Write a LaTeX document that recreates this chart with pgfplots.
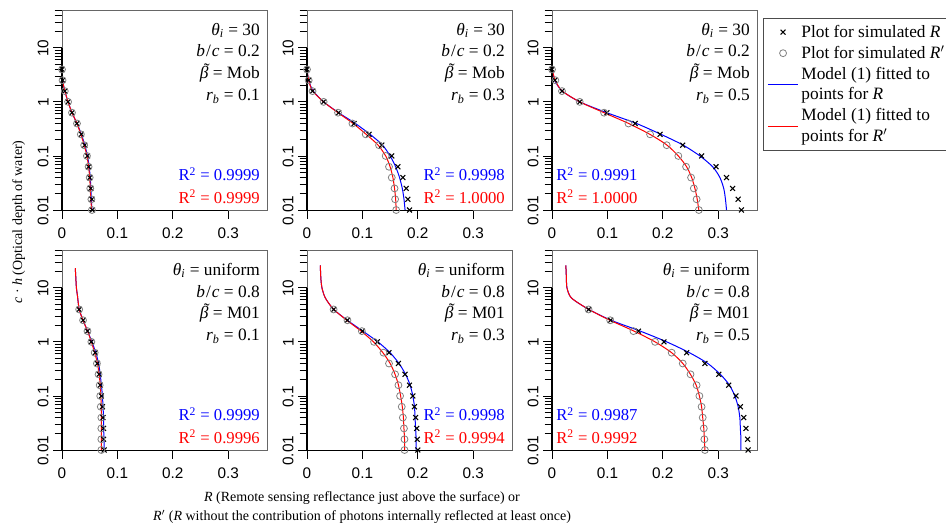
\documentclass[border=0pt]{standalone}
\usepackage{pgfplots}
\pgfplotsset{compat=1.18}
\usepackage{fontspec}
\setmainfont{Liberation Serif}
\newfontfamily\sansf{Liberation Sans}

\definecolor{rblue}{RGB}{0,0,255}
\definecolor{rred}{RGB}{255,0,0}

\pgfplotsset{
  panel/.style={
    scale only axis, width=153.75pt, height=150pt,
    xmin=0, xmax=0.37, ymin=0.01, ymax=50,
    clip=false,
    xtick={0,0.1,0.2,0.3}, xticklabels={0,0.1,0.2,0.3},
    ytick={0.01,0.1,1,10}, yticklabels={0.01,0.1,1,10},
    minor ytick={0.02,0.03,0.04,0.05,0.06,0.07,0.08,0.09,0.2,0.3,0.4,0.5,0.6,0.7,0.8,0.9,2,3,4,5,6,7,8,9,20,30,40,50},
    xtick pos=bottom, ytick pos=left,
    tick align=outside,
    major tick length=6.5pt, minor tick length=5.5pt,
    every tick/.style={black, line width=0.6pt},
    axis line style={black!60, line width=0.6pt},
    tick label style={font=\sansf\fontsize{11.5}{11.5}\selectfont},
    yticklabel style={rotate=90, anchor=south, xshift=-0.5pt},
    xticklabel style={anchor=north, yshift=-3pt},
    legend image code/.code={\draw[mark repeat=2,mark phase=2,#1] plot coordinates {(0cm,0cm) (0.4cm,0cm) (0.8cm,0cm)};},
  },
  simR/.style={only marks, mark=x, mark size=2.6pt, color=black, line width=0.8pt},
  simRp/.style={only marks, mark=o, mark size=2.6pt, color=black!50, line width=0.6pt},
  fitR/.style={color=rblue, draw=rblue, line width=0.75pt, smooth, tension=0.45, mark=none},
  fitRp/.style={color=rred, draw=rred, line width=0.75pt, smooth, tension=0.45, mark=none},
}

% beta with a tilde centred over it
\newcommand{\btilde}{\setbox0\hbox{\textit{β}}%
  \makebox[\wd0][c]{\hspace{0.3em}\smash{\raisebox{0.2em}{˜}}}\kern-\wd0\box0}
\newcommand{\annot}[4]{%
  \node[anchor=north east, align=right, inner sep=0pt, font=\fontsize{13}{16.2}\selectfont]
    at (rel axis cs:0.966,0.935)
    {\textit{θ}\textsubscript{\textit{i}} = #1\\\textit{b}\kern0.8pt/\kern0.8pt\textit{c} = #2\\\btilde\ = #3\\\textit{r}\textsubscript{\textit{b}} = #4};}
\newcommand{\rsqright}[2]{%
  \node[anchor=south east, align=right, inner sep=0pt, font=\fontsize{12.5}{17}\selectfont]
    at (rel axis cs:0.966,0.03)
    {\textcolor{rblue}{R\textsuperscript{2} = #1}\\\textcolor{rred}{R\textsuperscript{2} = #2}};}
\newcommand{\rsqleft}[2]{%
  \node[anchor=south west, align=left, inner sep=0pt, font=\fontsize{12.5}{17}\selectfont]
    at (rel axis cs:0.02,0.03)
    {\textcolor{rblue}{R\textsuperscript{2} = #1}\\\textcolor{rred}{R\textsuperscript{2} = #2}};}
\newcommand{\blackaxes}{%
  \draw[black, line width=0.9pt] (axis cs:0,0.01) -- (axis cs:0,10);
  \draw[black, line width=0.6pt] (axis cs:0,0.01) -- (axis cs:0.3,0.01);}

\begin{document}
\begin{tikzpicture}
\useasboundingbox (0,0) rectangle (709.5pt,-396.75pt);

% ---- top row: theta_i = 30, b/c = 0.2, Mob ----
\begin{semilogyaxis}[panel, at={(46.5pt,-157.5pt)}, anchor=south west]
\addplot[simR] coordinates {(0,3.98)(0.001,2.51)(0.005,1.58)(0.011,1)(0.018,0.631)(0.027,0.398)(0.035,0.251)(0.041,0.158)(0.046,0.1)(0.048,0.0631)(0.050,0.0398)(0.052,0.0251)(0.054,0.0158)(0.055,0.01)};
\addplot[simRp] coordinates {(0,3.98)(0.001,2.51)(0.005,1.58)(0.011,1)(0.018,0.631)(0.027,0.398)(0.034,0.251)(0.040,0.158)(0.045,0.1)(0.048,0.0631)(0.050,0.0398)(0.051,0.0251)(0.053,0.0158)(0.054,0.01)};
\addplot[fitR] coordinates {(0,4)(0.001,2.5)(0.005,1.6)(0.011,1)(0.018,0.63)(0.027,0.4)(0.035,0.25)(0.041,0.16)(0.046,0.1)(0.049,0.063)(0.051,0.04)(0.052,0.025)(0.053,0.016)(0.054,0.01)};
\addplot[fitRp] coordinates {(0,4)(0.001,2.5)(0.005,1.6)(0.011,1)(0.018,0.63)(0.027,0.4)(0.034,0.25)(0.040,0.16)(0.045,0.1)(0.048,0.063)(0.050,0.04)(0.051,0.025)(0.052,0.016)(0.0535,0.01)};
\blackaxes
\annot{30}{0.2}{Mob}{0.1}
\rsqright{0.9999}{0.9999}
\end{semilogyaxis}

\begin{semilogyaxis}[panel, at={(230.25pt,-157.5pt)}, anchor=south west]
\addplot[simR] coordinates {(0,3.98)(0.003,2.51)(0.010,1.58)(0.030,1)(0.057,0.631)(0.085,0.398)(0.112,0.251)(0.135,0.158)(0.153,0.1)(0.164,0.0631)(0.173,0.0398)(0.179,0.0251)(0.182,0.0158)(0.185,0.01)};
\addplot[simRp] coordinates {(0,3.98)(0.003,2.51)(0.010,1.58)(0.030,1)(0.056,0.631)(0.082,0.398)(0.106,0.251)(0.130,0.158)(0.142,0.1)(0.148,0.0631)(0.153,0.0398)(0.158,0.0251)(0.159,0.0158)(0.161,0.01)};
\addplot[fitR] coordinates {(0,4)(0.003,2.5)(0.011,1.6)(0.030,1)(0.057,0.63)(0.087,0.4)(0.114,0.25)(0.136,0.16)(0.150,0.1)(0.160,0.063)(0.167,0.04)(0.172,0.025)(0.175,0.016)(0.177,0.01)};
\addplot[fitRp] coordinates {(0,4)(0.003,2.5)(0.010,1.6)(0.030,1)(0.056,0.63)(0.083,0.4)(0.107,0.25)(0.128,0.16)(0.142,0.1)(0.150,0.063)(0.155,0.04)(0.158,0.025)(0.160,0.016)(0.161,0.01)};
\blackaxes
\annot{30}{0.2}{Mob}{0.3}
\rsqright{0.9998}{1.0000}
\end{semilogyaxis}

\begin{semilogyaxis}[panel, at={(414pt,-157.5pt)}, anchor=south west,
  legend cell align=left,
  legend style={at={(1,1)}, anchor=north west, xshift=4.5pt, yshift=-6pt, draw=black!70, line width=0.6pt,
    font=\fontsize{13}{15.5}\selectfont, cells={align=left}, row sep=1pt, inner sep=3pt}]
\addplot[simR] coordinates {(0,3.98)(0.005,2.51)(0.018,1.58)(0.050,1)(0.099,0.631)(0.150,0.398)(0.195,0.251)(0.236,0.158)(0.270,0.1)(0.296,0.0631)(0.315,0.0398)(0.326,0.0251)(0.336,0.0158)(0.342,0.01)};
\addlegendentry{Plot for simulated \textit{R}}
\addplot[simRp] coordinates {(0,3.98)(0.006,2.51)(0.018,1.58)(0.050,1)(0.094,0.631)(0.138,0.398)(0.177,0.251)(0.207,0.158)(0.228,0.1)(0.242,0.0631)(0.251,0.0398)(0.256,0.0251)(0.261,0.0158)(0.265,0.01)};
\addlegendentry{Plot for simulated \textit{R}$'$}
\addplot[fitR] coordinates {(0,4)(0.005,2.5)(0.018,1.6)(0.050,1)(0.099,0.63)(0.152,0.4)(0.197,0.25)(0.236,0.16)(0.267,0.1)(0.290,0.063)(0.303,0.04)(0.310,0.025)(0.313,0.016)(0.315,0.01)};
\addlegendentry{Model (1) fitted to\\points for \textit{R}}
\addplot[fitRp] coordinates {(0,4)(0.006,2.5)(0.018,1.6)(0.050,1)(0.094,0.63)(0.138,0.4)(0.177,0.25)(0.207,0.16)(0.228,0.1)(0.243,0.063)(0.252,0.04)(0.258,0.025)(0.262,0.016)(0.265,0.01)};
\addlegendentry{Model (1) fitted to\\points for \textit{R}$'$}
\blackaxes
\annot{30}{0.2}{Mob}{0.5}
\rsqleft{0.9991}{1.0000}
\end{semilogyaxis}

% ---- bottom row: theta_i = uniform, b/c = 0.8, M01 ----
\begin{semilogyaxis}[panel, at={(46.5pt,-337.5pt)}, anchor=south west]
\addplot[simR] coordinates {(0.031,3.98)(0.038,2.51)(0.046,1.58)(0.053,1)(0.060,0.631)(0.064,0.398)(0.067,0.251)(0.069,0.158)(0.071,0.1)(0.073,0.0631)(0.074,0.0398)(0.075,0.0251)(0.075,0.0158)(0.076,0.01)};
\addplot[simRp] coordinates {(0.031,3.98)(0.038,2.51)(0.046,1.58)(0.053,1)(0.059,0.631)(0.063,0.398)(0.066,0.251)(0.068,0.158)(0.069,0.1)(0.070,0.0631)(0.071,0.0398)(0.071,0.0251)(0.071,0.0158)(0.071,0.01)};
\addplot[fitR] coordinates {(0.024,23)(0.025,15)(0.026,10)(0.028,7)(0.031,4)(0.038,2.5)(0.046,1.6)(0.054,1)(0.061,0.63)(0.066,0.4)(0.069,0.25)(0.071,0.16)(0.073,0.1)(0.074,0.063)(0.075,0.04)(0.075,0.025)(0.076,0.016)(0.076,0.01)};
\addplot[fitRp] coordinates {(0.024,23)(0.025,15)(0.026,10)(0.028,7)(0.031,4)(0.038,2.5)(0.046,1.6)(0.053,1)(0.059,0.63)(0.064,0.4)(0.067,0.25)(0.069,0.16)(0.070,0.1)(0.071,0.063)(0.071,0.04)(0.071,0.025)(0.071,0.016)(0.071,0.01)};
\blackaxes
\annot{uniform}{0.8}{M01}{0.1}
\rsqright{0.9999}{0.9996}
\end{semilogyaxis}

\begin{semilogyaxis}[panel, at={(230.25pt,-337.5pt)}, anchor=south west]
\addplot[simR] coordinates {(0.048,3.98)(0.073,2.51)(0.100,1.58)(0.127,1)(0.148,0.631)(0.165,0.398)(0.177,0.251)(0.185,0.158)(0.191,0.1)(0.194,0.0631)(0.196,0.0398)(0.198,0.0251)(0.199,0.0158)(0.200,0.01)};
\addplot[simRp] coordinates {(0.048,3.98)(0.073,2.51)(0.099,1.58)(0.121,1)(0.138,0.631)(0.148,0.398)(0.159,0.251)(0.165,0.158)(0.168,0.1)(0.171,0.0631)(0.173,0.0398)(0.175,0.0251)(0.176,0.0158)(0.176,0.01)};
\addplot[fitR] coordinates {(0.024,26)(0.025,15)(0.027,10)(0.033,6.5)(0.048,4)(0.073,2.5)(0.100,1.6)(0.128,1)(0.150,0.63)(0.166,0.4)(0.178,0.25)(0.186,0.16)(0.191,0.1)(0.194,0.063)(0.195,0.04)(0.196,0.025)(0.197,0.016)(0.197,0.01)};
\addplot[fitRp] coordinates {(0.024,26)(0.025,15)(0.027,10)(0.033,6.5)(0.048,4)(0.072,2.5)(0.097,1.6)(0.120,1)(0.137,0.63)(0.150,0.4)(0.159,0.25)(0.165,0.16)(0.169,0.1)(0.172,0.063)(0.174,0.04)(0.175,0.025)(0.176,0.016)(0.176,0.01)};
\blackaxes
\annot{uniform}{0.8}{M01}{0.3}
\rsqright{0.9998}{0.9994}
\end{semilogyaxis}

\begin{semilogyaxis}[panel, at={(414pt,-337.5pt)}, anchor=south west]
\addplot[simR] coordinates {(0.066,3.98)(0.106,2.51)(0.156,1.58)(0.202,1)(0.243,0.631)(0.276,0.398)(0.301,0.251)(0.319,0.158)(0.332,0.1)(0.340,0.0631)(0.346,0.0398)(0.350,0.0251)(0.353,0.0158)(0.354,0.01)};
\addplot[simRp] coordinates {(0.066,3.98)(0.105,2.51)(0.147,1.58)(0.186,1)(0.216,0.631)(0.236,0.398)(0.250,0.251)(0.261,0.158)(0.266,0.1)(0.270,0.0631)(0.272,0.0398)(0.274,0.0251)(0.275,0.0158)(0.276,0.01)};
\addplot[fitR] coordinates {(0.025,26)(0.026,15)(0.027,10)(0.035,6.5)(0.066,4)(0.107,2.5)(0.158,1.6)(0.207,1)(0.248,0.63)(0.281,0.4)(0.304,0.25)(0.320,0.16)(0.330,0.1)(0.336,0.063)(0.339,0.04)(0.340,0.025)(0.341,0.016)(0.341,0.01)};
\addplot[fitRp] coordinates {(0.025,26)(0.026,15)(0.027,10)(0.035,6.5)(0.066,4)(0.105,2.5)(0.147,1.6)(0.186,1)(0.216,0.63)(0.236,0.4)(0.250,0.25)(0.260,0.16)(0.266,0.1)(0.270,0.063)(0.272,0.04)(0.274,0.025)(0.275,0.016)(0.276,0.01)};
\blackaxes
\annot{uniform}{0.8}{M01}{0.5}
\rsqleft{0.9987}{0.9992}
\end{semilogyaxis}

% ---- shared axis labels ----
\node[rotate=90, font=\fontsize{10.5}{13}\selectfont] at (14pt,-166.5pt)
  {\textit{c} · \textit{h} (Optical depth of water)};
\node[align=center, font=\fontsize{10.5}{14.5}\selectfont] at (271.5pt,-380.5pt)
  {\textit{R} (Remote sensing reflectance just above the surface) or\\
   \textit{R}$'$ (\textit{R} without the contribution of photons internally reflected at least once)};
\end{tikzpicture}
\end{document}
